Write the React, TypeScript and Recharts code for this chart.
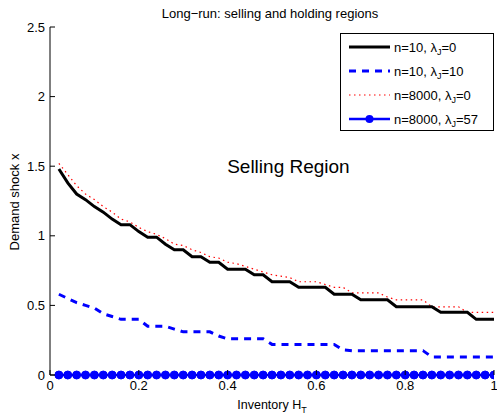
import React from 'react';
import { ComposedChart, Line, XAxis, YAxis, ReferenceDot } from 'recharts';

const X_VALUES = [0.02, 0.04, 0.06, 0.08, 0.10, 0.12, 0.14, 0.16, 0.18, 0.20,
  0.22, 0.24, 0.26, 0.28, 0.30, 0.32, 0.34, 0.36, 0.38, 0.40,
  0.42, 0.44, 0.46, 0.48, 0.50, 0.52, 0.54, 0.56, 0.58, 0.60,
  0.62, 0.64, 0.66, 0.68, 0.70, 0.72, 0.74, 0.76, 0.78, 0.80,
  0.82, 0.84, 0.86, 0.88, 0.90, 0.92, 0.94, 0.96, 0.98, 1.00];

const N10_L0 = [1.48, 1.38, 1.30, 1.26, 1.21, 1.17, 1.12, 1.08, 1.08, 1.03,
  0.99, 0.99, 0.94, 0.90, 0.90, 0.85, 0.85, 0.81, 0.81, 0.76,
  0.76, 0.76, 0.72, 0.72, 0.67, 0.67, 0.67, 0.63, 0.63, 0.63,
  0.63, 0.58, 0.58, 0.58, 0.54, 0.54, 0.54, 0.54, 0.49, 0.49,
  0.49, 0.49, 0.49, 0.45, 0.45, 0.45, 0.45, 0.40, 0.40, 0.40];

const N10_L10 = [0.58, 0.55, 0.52, 0.50, 0.48, 0.44, 0.42, 0.40, 0.40, 0.40,
  0.35, 0.35, 0.35, 0.33, 0.31, 0.31, 0.31, 0.31, 0.28, 0.26,
  0.26, 0.26, 0.26, 0.26, 0.22, 0.22, 0.22, 0.22, 0.22, 0.22,
  0.22, 0.22, 0.18, 0.175, 0.175, 0.175, 0.175, 0.175, 0.175, 0.175,
  0.175, 0.175, 0.13, 0.13, 0.13, 0.13, 0.13, 0.13, 0.13, 0.13];

const N8000_L0 = [1.52, 1.44, 1.36, 1.30, 1.26, 1.21, 1.17, 1.12, 1.10, 1.06,
  1.03, 1.01, 0.98, 0.94, 0.93, 0.90, 0.88, 0.85, 0.84, 0.81,
  0.80, 0.78, 0.76, 0.74, 0.72, 0.71, 0.70, 0.67, 0.67, 0.67,
  0.65, 0.63, 0.63, 0.59, 0.59, 0.59, 0.59, 0.56, 0.54, 0.54,
  0.54, 0.54, 0.49, 0.49, 0.49, 0.49, 0.45, 0.45, 0.45, 0.45];

const N8000_L57 = [0, 0, 0, 0, 0, 0, 0, 0, 0, 0,
  0, 0, 0, 0, 0, 0, 0, 0, 0, 0,
  0, 0, 0, 0, 0, 0, 0, 0, 0, 0,
  0, 0, 0, 0, 0, 0, 0, 0, 0, 0,
  0, 0, 0, 0, 0, 0, 0, 0, 0, 0];

const X_TICKS = [0, 0.2, 0.4, 0.6, 0.8, 1];
const Y_TICKS = [0, 0.5, 1, 1.5, 2, 2.5];

const SERIES_N = ['10', '10', '8000', '8000'];
const SERIES_LAMBDA = ['0', '10', '0', '57'];

const TITLE = 'Long\u2212run: selling and holding regions';
const X_LABEL = 'Inventory H';
const X_LABEL_SUB = 'T';
const Y_LABEL = 'Demand shock x';
const ANNOTATION = 'Selling Region';
const ANNOTATION_AT = { x: 0.537, y: 1.5 };

const data = X_VALUES.map((x, i) => ({
  x,
  a: N10_L0[i],
  b: N10_L10[i],
  c: N8000_L0[i],
  d: N8000_L57[i],
}));

const FONT = 'Liberation Sans, Arial, Helvetica, sans-serif';
const TICK_LEN = 5;

const BottomTick = (props: any) => {
  const { x, y, payload } = props;
  return (
    <g>
      <line x1={x} x2={x} y1={y} y2={y - TICK_LEN} stroke="#000" strokeWidth={1} />
      <text x={x} y={y + 15} textAnchor="middle" fontSize={13} fontFamily={FONT} fill="#000">
        {String(payload.value)}
      </text>
    </g>
  );
};

const LeftTick = (props: any) => {
  const { x, y, payload } = props;
  return (
    <g>
      <line x1={x} x2={x + TICK_LEN} y1={y} y2={y} stroke="#000" strokeWidth={1} />
      <text x={x - 5} y={y + 4.5} textAnchor="end" fontSize={13} fontFamily={FONT} fill="#000">
        {String(payload.value)}
      </text>
    </g>
  );
};

const TopTick = (props: any) => {
  const { x, y } = props;
  return <line x1={x} x2={x} y1={y} y2={y + TICK_LEN} stroke="#000" strokeWidth={1} />;
};

const RightTick = (props: any) => {
  const { x, y } = props;
  return <line x1={x} x2={x - TICK_LEN} y1={y} y2={y} stroke="#000" strokeWidth={1} />;
};

const legendStyles = [
  { stroke: '#000', width: 3, dash: undefined as string | undefined, marker: false },
  { stroke: '#0000ff', width: 3, dash: '7 6', marker: false },
  { stroke: '#ff0000', width: 1.2, dash: '1.5 3.5', marker: false },
  { stroke: '#0000ff', width: 2.5, dash: undefined as string | undefined, marker: true },
];

export default function App() {
  return (
    <div style={{ position: 'absolute', left: 0, top: 0, width: 497, height: 416, background: '#fff', fontFamily: FONT, overflow: 'hidden' }}>
      <style>{'html,body{margin:0;padding:0;overflow:hidden;}'}</style>
      <ComposedChart
        width={497}
        height={416}
        data={data}
        margin={{ top: 27, right: 3, bottom: 0, left: 0 }}
        style={{ overflow: 'visible' }}
      >
        <XAxis
          xAxisId="bottom"
          dataKey="x"
          type="number"
          domain={[0, 1]}
          ticks={X_TICKS}
          height={41}
          tickSize={0}
          tickMargin={0}
          tickLine={false}
          axisLine={{ stroke: '#000', strokeWidth: 1 }}
          tick={<BottomTick />}
          interval={0}
          allowDataOverflow
        />
        <XAxis
          xAxisId="top"
          orientation="top"
          type="number"
          domain={[0, 1]}
          ticks={X_TICKS}
          height={0}
          tickSize={0}
          tickMargin={0}
          tickLine={false}
          axisLine={{ stroke: '#000', strokeWidth: 1 }}
          tick={<TopTick />}
          interval={0}
          allowDataOverflow
        />
        <YAxis
          yAxisId="left"
          type="number"
          domain={[0, 2.5]}
          ticks={Y_TICKS}
          width={50}
          tickSize={0}
          tickMargin={0}
          tickLine={false}
          axisLine={{ stroke: '#000', strokeWidth: 1 }}
          tick={<LeftTick />}
          interval={0}
        />
        <YAxis
          yAxisId="right"
          orientation="right"
          type="number"
          domain={[0, 2.5]}
          ticks={Y_TICKS}
          width={0}
          tickSize={0}
          tickMargin={0}
          tickLine={false}
          axisLine={{ stroke: '#000', strokeWidth: 1 }}
          tick={<RightTick />}
          interval={0}
        />
        <Line xAxisId="bottom" yAxisId="left" dataKey="c" stroke="#ff0000" strokeWidth={1.2}
          strokeDasharray="1.5 3.5" dot={false} isAnimationActive={false} type="linear" />
        <Line xAxisId="bottom" yAxisId="left" dataKey="a" stroke="#000" strokeWidth={3}
          dot={false} isAnimationActive={false} type="linear" strokeLinejoin="miter" />
        <Line xAxisId="bottom" yAxisId="left" dataKey="b" stroke="#0000ff" strokeWidth={3}
          strokeDasharray="7 6" dot={false} isAnimationActive={false} type="linear" />
        <Line xAxisId="bottom" yAxisId="left" dataKey="d" stroke="#0000ff" strokeWidth={2.5}
          dot={{ r: 4, fill: '#0000ff', stroke: '#0000ff', strokeWidth: 1 }} isAnimationActive={false} type="linear" />
        <ReferenceDot xAxisId="bottom" yAxisId="left" x={ANNOTATION_AT.x} y={ANNOTATION_AT.y} r={0}
          fill="none" stroke="none"
          label={{ value: ANNOTATION, position: 'center', fontSize: 19, fill: '#000', fontFamily: FONT }} />
      </ComposedChart>

      <svg width={497} height={416} style={{ position: 'absolute', left: 0, top: 0, pointerEvents: 'none' }}>
        <text x={270} y={18} textAnchor="middle" fontSize={13} fontFamily={FONT} fill="#000">{TITLE}</text>
        <text x={272} y={409} textAnchor="middle" fontSize={12.5} fontFamily={FONT} fill="#000">
          {X_LABEL}
          <tspan fontSize={9} dy={4}>{X_LABEL_SUB}</tspan>
        </text>
        <text x={0} y={0} transform="translate(19,202) rotate(-90)" textAnchor="middle" fontSize={13}
          fontFamily={FONT} fill="#000">{Y_LABEL}</text>

        <rect x={340.5} y={33.5} width={153} height={97} fill="#fff" stroke="#000" strokeWidth={1} />
        {SERIES_N.map((n, i) => {
          const cy = 47 + i * 24;
          const st = legendStyles[i];
          return (
            <g key={i}>
              <line x1={349} x2={390} y1={cy} y2={cy} stroke={st.stroke} strokeWidth={st.width}
                strokeDasharray={st.dash} />
              {st.marker ? <circle cx={369.5} cy={cy} r={4} fill={st.stroke} /> : null}
              <text x={394} y={cy + 4.5} fontSize={13} fontFamily={FONT} fill="#000">
                {`n=${n}, \u03bb`}
                <tspan fontSize={9} dy={3}>J</tspan>
                <tspan dy={-3}>{`=${SERIES_LAMBDA[i]}`}</tspan>
              </text>
            </g>
          );
        })}
      </svg>
    </div>
  );
}
